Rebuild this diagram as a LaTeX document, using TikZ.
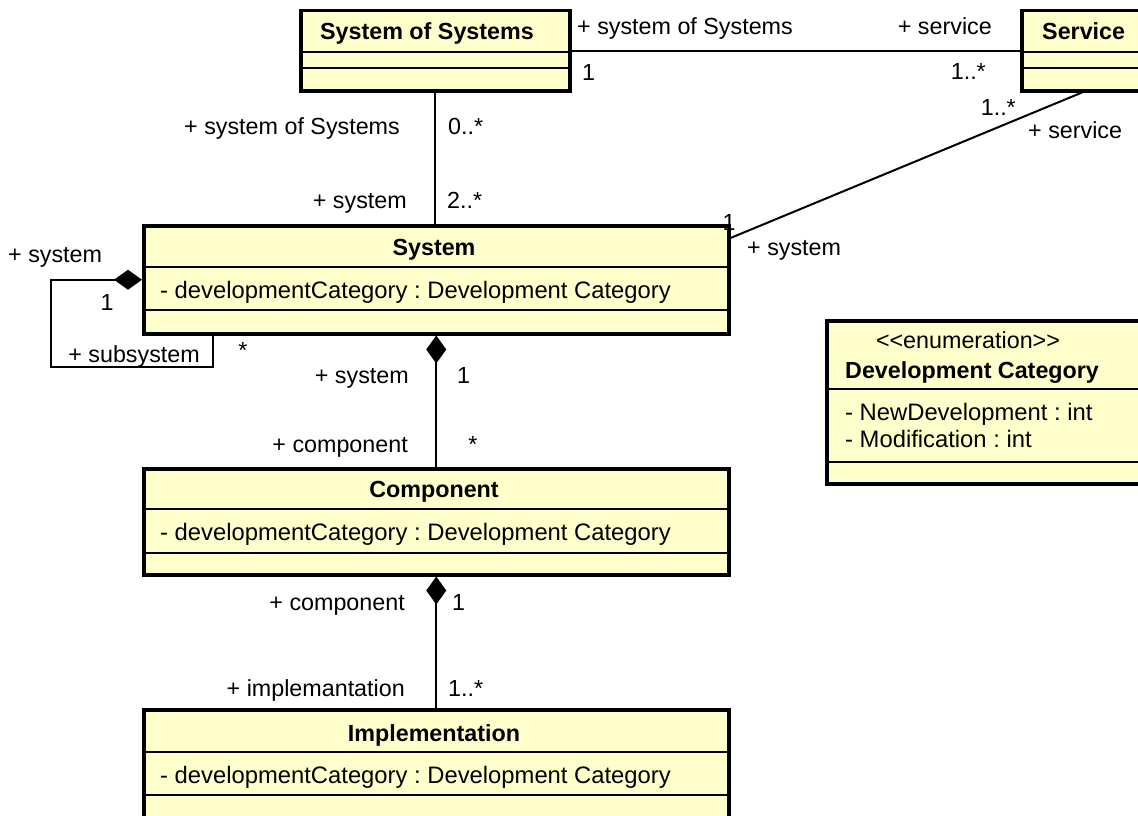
\documentclass[tikz,border=0pt]{standalone}
\usepackage{fontspec}
\setmainfont{Liberation Sans}
\usetikzlibrary{arrows.meta,calc}
\definecolor{classfill}{RGB}{255,255,204}

\begin{document}
\frenchspacing
\begin{tikzpicture}[x=1pt,y=-1pt,
  umlbox/.style={draw=black, line width=3.5pt, fill=classfill, inner sep=0pt, anchor=north west},
  divider/.style={line width=2pt},
  assoc/.style={line width=2pt},
  comp/.style={line width=2pt, {Diamond[length=28pt,width=20pt]}-},
  lbl/.style={inner sep=0pt, font=\fontsize{23.3}{28}\selectfont},
  attr/.style={inner sep=0pt, font=\fontsize{23.8}{28}\selectfont},
  title/.style={lbl, font=\fontsize{23.3}{28}\selectfont\bfseries}]

\useasboundingbox (0,0) rectangle (1138,816);

% ---- classes ----
\node[umlbox, minimum width=269, minimum height=80]  (sos)       at (299,9)   {};
\node[umlbox, minimum width=140, minimum height=80]  (service)   at (1020,9)  {};
\node[umlbox, minimum width=585, minimum height=108] (system)    at (142,224) {};
\node[umlbox, minimum width=585, minimum height=106] (component) at (142,467) {};
\node[umlbox, minimum width=585, minimum height=110] (impl)      at (142,708) {};
\node[umlbox, minimum width=330, minimum height=163] (enum)      at (825,319) {};

% compartment lines
\foreach \n/\ya/\yb in {sos/52/68, service/52/68, system/267/310,
                        component/509/553, impl/752/795, enum/389/462} {
  \draw[divider] (\n.west |- 0,\ya) -- (\n.east |- 0,\ya);
  \draw[divider] (\n.west |- 0,\yb) -- (\n.east |- 0,\yb);
}

% class names and attributes
\node[title, anchor=base] (sosname) at (427,40) {System of Systems};
\node[title, anchor=base west] (svcname) at (1042,40) {Service};

\node[title, anchor=base] (sysname) at (434,255) {System};
\node[attr, anchor=base west] (sysattr) at (160,298) {- developmentCategory : Development Category};

\node[title, anchor=base] (compname) at (434,497) {Component};
\node[attr, anchor=base west] (compattr) at (160,540) {- developmentCategory : Development Category};

\node[title, anchor=base] (implname) at (434,741) {Implementation};
\node[attr, anchor=base west] (implattr) at (160,783) {- developmentCategory : Development Category};

\node[lbl, anchor=base] (enumstereo) at (968,348) {{<}{<}enumeration{>}{>}};
\node[title, anchor=base west] (enumname) at (845,378) {Development Category};
\node[attr, anchor=base west] (enumlit1) at (845,420) {- NewDevelopment : int};
\node[attr, anchor=base west] (enumlit2) at (845,447) {- Modification : int};

% ---- associations ----
\draw[assoc] (sos.east) -- (service.west);
\draw[assoc] (sos.south) -- (sos.south |- system.north);
\coordinate (svcfoot) at ($(service.south west)+(62,0)$);
\draw[assoc] (svcfoot) -- ($(system.north east)+(0,14)$);

% compositions
\draw[comp] (system.west) -- (system.west -| 51,0) |- (213,367) -- (system.south -| 213,0);
\draw[comp] (system.south) -- (component.north);
\draw[comp] (component.south) -- (impl.north);

% ---- association end labels ----
\node[lbl, anchor=base west] (e1) at (577,35) {+ system of Systems};
\node[lbl, anchor=base west] (e2) at (582,81) {1};
\node[lbl, anchor=base east] (e3) at (992,35) {+ service};
\node[lbl, anchor=base east] (e4) at (986,80) {1..*};

\node[lbl, anchor=base east] (e5) at (1016,115) {1..*};
\node[lbl, anchor=base west] (e6) at (1028,138) {+ service};
\node[lbl, anchor=base] (e7) at (729,230) {1};
\node[lbl, anchor=base west] (e8) at (747,255) {+ system};

\node[lbl, anchor=base east] (e9) at (400,134) {+ system of Systems};
\node[lbl, anchor=base west] (e10) at (448,134) {0..*};
\node[lbl, anchor=base east] (e11) at (407,208) {+ system};
\node[lbl, anchor=base west] (e12) at (447,208) {2..*};

\node[lbl, anchor=base west] (e13) at (8,262) {+ system};
\node[lbl, anchor=base] (e14) at (107,310) {1};
\node[lbl, anchor=base east] (e15) at (200,362) {+ subsystem};
\node[lbl, anchor=base] (e16) at (243,358) {*};

\node[lbl, anchor=base east] (e17) at (409,383) {+ system};
\node[lbl, anchor=base west] (e18) at (457,383) {1};
\node[lbl, anchor=base east] (e19) at (408,452) {+ component};
\node[lbl, anchor=base] (e20) at (473,452) {*};

\node[lbl, anchor=base east] (e21) at (405,610) {+ component};
\node[lbl, anchor=base west] (e22) at (452,610) {1};
\node[lbl, anchor=base east] (e23) at (405,696) {+ implemantation};
\node[lbl, anchor=base west] (e24) at (448,696) {1..*};
\end{tikzpicture}
\end{document}
